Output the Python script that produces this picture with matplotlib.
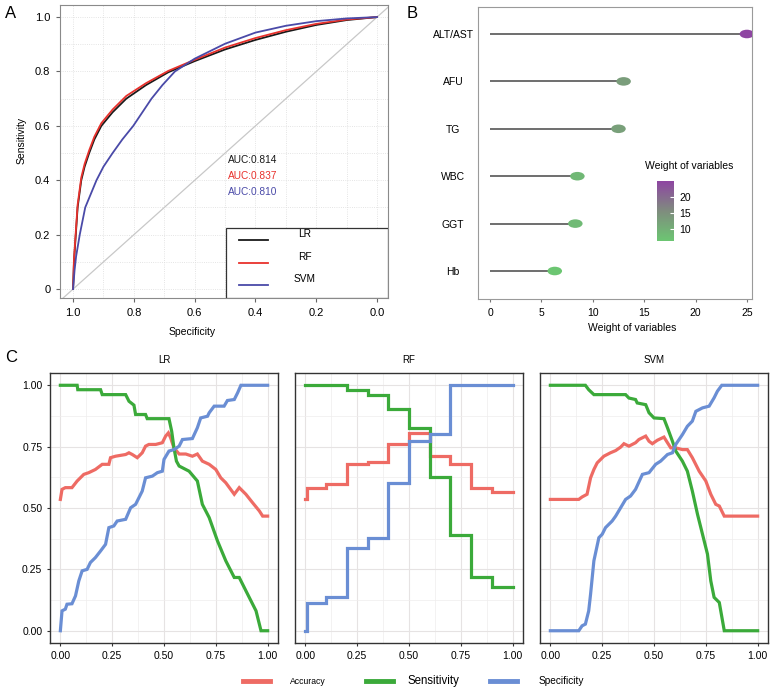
import numpy as np
import matplotlib
matplotlib.use("Agg")
import matplotlib.pyplot as plt
from matplotlib.path import Path
from matplotlib.lines import Line2D
from matplotlib.patches import Rectangle
from matplotlib.colors import LinearSegmentedColormap, Normalize

plt.rcParams['font.family'] = ['Liberation Sans', 'DejaVu Sans']

# ---- A: ROC curves ----
roc_spec = [1.0, 0.997, 0.991, 0.985, 0.973, 0.962, 0.947, 0.93, 0.907, 0.87, 0.825, 0.76, 0.687,
            0.6, 0.5, 0.4, 0.3, 0.2, 0.1, 0.0]
roc_lr = [0, 0.10, 0.20, 0.30, 0.40, 0.45, 0.50, 0.55, 0.60, 0.65, 0.70, 0.75, 0.797,
          0.838, 0.881, 0.916, 0.946, 0.971, 0.989, 1.0]
roc_rf = [0, 0.11, 0.21, 0.31, 0.41, 0.46, 0.51, 0.56, 0.61, 0.66, 0.71, 0.757, 0.802,
          0.843, 0.888, 0.923, 0.952, 0.975, 0.991, 1.0]
roc_svm_spec = [1.0, 0.995, 0.99, 0.978, 0.96, 0.923, 0.9, 0.87, 0.838, 0.802, 0.772, 0.742, 0.706,
                0.665, 0.6, 0.5, 0.4, 0.3, 0.2, 0.1, 0.0]
roc_svm = [0, 0.07, 0.12, 0.20, 0.30, 0.40, 0.45, 0.50, 0.55, 0.60, 0.65, 0.70, 0.75,
           0.80, 0.847, 0.902, 0.943, 0.968, 0.985, 0.995, 1.0]
auc_labels = ['AUC:0.814', 'AUC:0.837', 'AUC:0.810']
models = ['LR', 'RF', 'SVM']

# ---- B: variable weights ----
variables = ['ALT/AST', 'AFU', 'TG', 'WBC', 'GGT', 'Hb']
weights = [25.0, 13.0, 12.5, 8.5, 8.3, 6.3]

# ---- C: accuracy / sensitivity / specificity vs cutoff ----
lr_acc_x = [0, 0.008, 0.024, 0.056, 0.081, 0.113, 0.137, 0.169, 0.202, 0.234, 0.242, 0.266, 0.315, 0.331,
            0.347, 0.371, 0.395, 0.411, 0.427, 0.46, 0.492, 0.508, 0.521, 0.532, 0.548, 0.573, 0.605, 0.637,
            0.661, 0.685, 0.718, 0.75, 0.774, 0.798, 0.839, 0.863, 0.895, 0.927, 0.96, 0.976, 1.0]
lr_acc = [0.535, 0.576, 0.583, 0.583, 0.61, 0.637, 0.644, 0.657, 0.678, 0.678, 0.705, 0.711, 0.718, 0.725,
          0.718, 0.705, 0.725, 0.752, 0.759, 0.759, 0.766, 0.793, 0.806, 0.786, 0.745, 0.72, 0.72, 0.711,
          0.72, 0.691, 0.678, 0.657, 0.623, 0.603, 0.556, 0.583, 0.556, 0.522, 0.488, 0.467, 0.467]
lr_sens_x = [0, 0.081, 0.084, 0.194, 0.202, 0.315, 0.331, 0.355, 0.363, 0.411, 0.419, 0.524, 0.537, 0.548,
             0.56, 0.573, 0.621, 0.661, 0.685, 0.718, 0.758, 0.798, 0.839, 0.863, 0.895, 0.944, 0.968, 1.0]
lr_sens = [1.0, 1.0, 0.982, 0.982, 0.962, 0.962, 0.935, 0.919, 0.881, 0.881, 0.864, 0.864, 0.813, 0.745,
           0.691, 0.671, 0.65, 0.61, 0.515, 0.461, 0.366, 0.285, 0.217, 0.217, 0.163, 0.081, 0.0, 0.0]
lr_spec_x = [0, 0.008, 0.024, 0.032, 0.056, 0.073, 0.089, 0.105, 0.129, 0.145, 0.169, 0.194, 0.218, 0.234,
             0.258, 0.274, 0.315, 0.339, 0.363, 0.395, 0.411, 0.444, 0.468, 0.492, 0.5, 0.524, 0.548, 0.573,
             0.589, 0.637, 0.661, 0.677, 0.71, 0.718, 0.742, 0.79, 0.806, 0.839, 0.855, 0.871, 1.0]
lr_spec = [0, 0.081, 0.088, 0.108, 0.11, 0.142, 0.203, 0.244, 0.25, 0.278, 0.298, 0.325, 0.352, 0.42,
           0.427, 0.447, 0.454, 0.501, 0.515, 0.569, 0.623, 0.63, 0.644, 0.65, 0.698, 0.732, 0.738, 0.752,
           0.779, 0.783, 0.827, 0.867, 0.874, 0.888, 0.915, 0.915, 0.938, 0.942, 0.969, 1.0, 1.0]

rf_x = [0, 0.01, 0.1, 0.2, 0.3, 0.4, 0.5, 0.6, 0.7, 0.8, 0.9, 1.0]
rf_acc = [0.535, 0.583, 0.596, 0.678, 0.688, 0.762, 0.804, 0.711, 0.680, 0.583, 0.565, 0.565]
rf_sens = [1.0, 1.0, 1.0, 0.98, 0.962, 0.905, 0.827, 0.626, 0.39, 0.217, 0.179, 0.179]
rf_spec = [0, 0.111, 0.136, 0.336, 0.379, 0.603, 0.775, 0.8, 1.0, 1.0, 1.0, 1.0]

svm_acc_x = [0, 0.137, 0.153, 0.177, 0.194, 0.21, 0.226, 0.258, 0.29, 0.315, 0.339, 0.355, 0.379, 0.411,
             0.427, 0.46, 0.476, 0.492, 0.516, 0.548, 0.565, 0.581, 0.605, 0.637, 0.661, 0.685, 0.718,
             0.75, 0.774, 0.798, 0.815, 0.839, 1.0]
svm_acc = [0.535, 0.535, 0.545, 0.556, 0.623, 0.657, 0.684, 0.711, 0.725, 0.734, 0.748, 0.762, 0.752, 0.766,
           0.779, 0.793, 0.772, 0.762, 0.776, 0.789, 0.766, 0.745, 0.745, 0.738, 0.738, 0.705, 0.65,
           0.61, 0.556, 0.515, 0.508, 0.467, 0.467]
svm_sens_x = [0, 0.169, 0.185, 0.21, 0.363, 0.379, 0.411, 0.419, 0.46, 0.476, 0.5, 0.548, 0.565, 0.589,
              0.605, 0.637, 0.661, 0.685, 0.71, 0.734, 0.758, 0.774, 0.79, 0.815, 0.839, 1.0]
svm_sens = [1.0, 1.0, 0.982, 0.962, 0.962, 0.948, 0.942, 0.928, 0.921, 0.888, 0.867, 0.864, 0.827, 0.772,
            0.732, 0.691, 0.65, 0.569, 0.474, 0.393, 0.312, 0.203, 0.136, 0.115, 0.0, 0.0]
svm_spec_x = [0, 0.137, 0.153, 0.169, 0.185, 0.194, 0.21, 0.234, 0.25, 0.266, 0.298, 0.315, 0.339, 0.363,
              0.387, 0.411, 0.444, 0.476, 0.508, 0.532, 0.565, 0.589, 0.605, 0.637, 0.661, 0.685, 0.702,
              0.734, 0.766, 0.79, 0.806, 0.827, 1.0]
svm_spec = [0, 0, 0.02, 0.027, 0.081, 0.149, 0.285, 0.379, 0.393, 0.42, 0.447, 0.467, 0.501, 0.535,
            0.549, 0.576, 0.637, 0.644, 0.678, 0.691, 0.718, 0.725, 0.759, 0.799, 0.833, 0.854, 0.894,
            0.908, 0.915, 0.949, 0.976, 1.0, 1.0]

metric_names = ['Accuracy', 'Sensitivity', 'Specificity']
col_acc, col_sens, col_spec = '#EE6B64', '#3BAA3A', '#6A8ED4'

fig = plt.figure(figsize=(7.74, 6.9), dpi=100)

# ================= A =================
axA = fig.add_axes([0.0775, 0.568, 0.4238, 0.4246])
axA.set_xlim(1.043, -0.036)
axA.set_ylim(-0.033, 1.044)
axA.set_xticks([1.0, 0.8, 0.6, 0.4, 0.2, 0.0])
axA.set_xticklabels(['1.0', '0.8', '0.6', '0.4', '0.2', '0.0'])
axA.set_xticks([0.9, 0.7, 0.5, 0.3, 0.1], minor=True)
axA.set_yticks([0, 0.2, 0.4, 0.6, 0.8, 1.0])
axA.set_yticklabels(['0', '0.2', '0.4', '0.6', '0.8', '1.0'])
axA.set_yticks([0.1, 0.3, 0.5, 0.7, 0.9], minor=True)
axA.grid(True, which='both', color='#dcdcdc', lw=0.6, ls=':')
axA.tick_params(labelsize=8, length=3, color='#666666', pad=4)
axA.tick_params(which='minor', length=0)
for s in axA.spines.values():
    s.set_color('#8a8a8a')
axA.axline((1, 0), (0, 1), color='#c8c8c8', lw=0.9)
roc_cols = ['#1a1a1a', '#e8312c', '#4a4aa8']
axA.plot(roc_spec, roc_lr, color=roc_cols[0], lw=1.3)
axA.plot(roc_spec, roc_rf, color=roc_cols[1], lw=1.3)
axA.plot(roc_svm_spec, roc_svm, color=roc_cols[2], lw=1.3)
for i, t in enumerate(auc_labels):
    axA.text(0.512, 0.471 - i * 0.054, t, color=roc_cols[i], fontsize=7.3,
             transform=axA.transAxes, va='center', ha='left')
axA.add_patch(Rectangle((0.506, 0.0), 0.494, 0.239, transform=axA.transAxes,
                        facecolor='white', edgecolor='#333333', lw=0.9, zorder=5))
for i, m in enumerate(models):
    yy = [0.198, 0.119, 0.044][i]
    axA.add_line(Line2D([0.546, 0.634], [yy, yy], transform=axA.transAxes,
                        color=roc_cols[i], lw=1.3, zorder=6))
    axA.text(0.747, yy + 0.02, m, transform=axA.transAxes, fontsize=7.3,
             ha='center', va='center', zorder=6)
fig.text(22 / 774, 1 - 140 / 690, 'Sensitivity', rotation=90, fontsize=7.5, ha='center', va='center')
fig.text(192 / 774, 1 - 332 / 690, 'Specificity', fontsize=7.5, ha='center', va='center')

# ================= B =================
axB = fig.add_axes([0.6176, 0.5667, 0.354, 0.4232])
ypos = np.arange(len(variables))[::-1] + 1
cmap = LinearSegmentedColormap.from_list('wv', ['#6CC672', '#7F8C7E', '#8E45A2'])
norm = Normalize(vmin=min(weights), vmax=max(weights))
circ = Path.unit_circle()
ell = Path(circ.vertices * np.array([1.7, 1.0]), circ.codes)
axB.hlines(ypos, 0, weights, color='#555555', lw=1.2, zorder=2)
sc = axB.scatter(weights, ypos, c=weights, cmap=cmap, norm=norm, marker=ell, s=110,
                 edgecolors='none', zorder=3)
axB.set_xlim(-1.17, 25.5)
axB.set_ylim(0.41, 6.57)
axB.set_xticks([0, 5, 10, 15, 20, 25])
axB.set_yticks(ypos)
axB.set_yticklabels(variables)
for lab in axB.get_yticklabels():
    lab.set_horizontalalignment('center')
axB.tick_params(axis='y', length=0, pad=18, labelsize=7.5)
axB.tick_params(axis='x', length=2.5, color='#777777', labelsize=7.5, pad=4)
for s in axB.spines.values():
    s.set_color('#9a9a9a')
fig.text(632 / 774, 1 - 328 / 690, 'Weight of variables', fontsize=7.5, ha='center', va='center')

cax = fig.add_axes([657 / 774, 1 - 241 / 690, 17 / 774, 60 / 690])
cb = fig.colorbar(sc, cax=cax, ticks=[10, 15, 20])
cb.outline.set_visible(False)
cax.tick_params(length=3, color='white', direction='in', labelsize=7.5, pad=4)
fig.text(645 / 774, 1 - 166 / 690, 'Weight of variables', fontsize=7.5, ha='left', va='center')

# ================= C =================
panels = [
    ('LR', (lr_acc_x, lr_acc), (lr_sens_x, lr_sens), (lr_spec_x, lr_spec), 'default'),
    ('RF', (rf_x, rf_acc), (rf_x, rf_sens), (rf_x, rf_spec), 'steps-post'),
    ('SVM', (svm_acc_x, svm_acc), (svm_sens_x, svm_sens), (svm_spec_x, svm_spec), 'default'),
]
lefts = [50, 295, 540]
for k, (name, acc, sens, spec, ds) in enumerate(panels):
    ax = fig.add_axes([lefts[k] / 774, 0.0681, 228 / 774, 0.3913])
    ax.set_xlim(-0.05, 1.05)
    ax.set_ylim(-0.05, 1.05)
    ticks = [0, 0.25, 0.5, 0.75, 1.0]
    ax.set_xticks(ticks)
    ax.set_xticklabels(['0.00', '0.25', '0.50', '0.75', '1.00'])
    ax.set_yticks(ticks)
    ax.set_xticks([0.125, 0.375, 0.625, 0.875], minor=True)
    ax.set_yticks([0.125, 0.375, 0.625, 0.875], minor=True)
    ax.grid(True, which='major', color='#e6e3e3', lw=0.8)
    ax.grid(True, which='minor', color='#efeded', lw=0.5)
    ax.set_axisbelow(True)
    ax.tick_params(which='minor', length=0)
    ax.tick_params(labelsize=7.5, length=2.5, color='#333333', pad=3)
    if k == 0:
        ax.set_yticklabels(['0.00', '0.25', '0.50', '0.75', '1.00'])
    else:
        ax.tick_params(axis='y', length=0, labelleft=False)
    for s in ax.spines.values():
        s.set_color('#333333')
        s.set_linewidth(1.0)
    ax.plot(acc[0], acc[1], color=col_acc, lw=2.3, drawstyle=ds, solid_joinstyle='miter')
    ax.plot(sens[0], sens[1], color=col_sens, lw=2.3, drawstyle=ds, solid_joinstyle='miter')
    ax.plot(spec[0], spec[1], color=col_spec, lw=2.3, drawstyle=ds, solid_joinstyle='miter')
    ax.text(0.5, 1.048, name, transform=ax.transAxes, fontsize=7, ha='center', va='center')

# bottom legend
leg_y = 1 - 681 / 690
leg = [(243, 270, 290, metric_names[0], col_acc, 6.2),
       (366, 393, 407, metric_names[1], col_sens, 8.3),
       (490, 517, 539, metric_names[2], col_spec, 7.3)]
for x0, x1, tx, lab, c, fs in leg:
    fig.add_artist(Line2D([x0 / 774, x1 / 774], [leg_y, leg_y], color=c, lw=3.5))
    fig.text(tx / 774, leg_y, lab, fontsize=fs, ha='left', va='center')

# panel letters
fig.text(5 / 774, 1 - 13 / 690, 'A', fontsize=12, ha='left', va='center')
fig.text(407 / 774, 1 - 13 / 690, 'B', fontsize=12, ha='left', va='center')
fig.text(5 / 774, 1 - 358 / 690, 'C', fontsize=12, ha='left', va='center')

fig.savefig('out.png', dpi=100)
